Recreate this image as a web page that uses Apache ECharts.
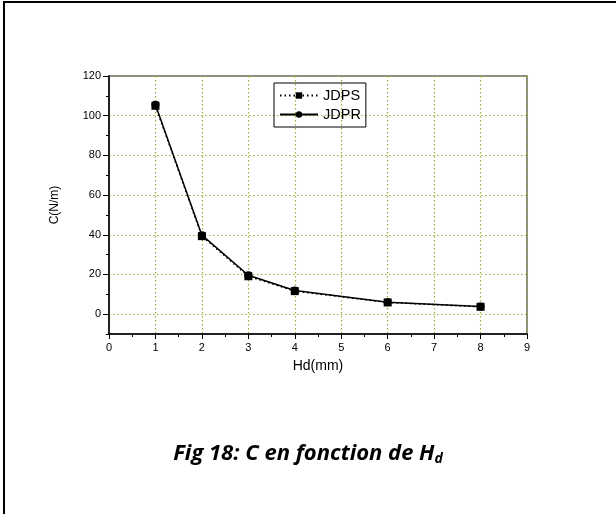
<!DOCTYPE html>
<html>
<head>
<meta charset="utf-8">
<script src="https://cdn.jsdelivr.net/npm/echarts@6/dist/echarts.min.js"></script>
<style>html,body{margin:0;padding:0;background:#fff}#c{width:616px;height:514px}</style>
</head>
<body>
<div id="c"></div>
<script>
const hd = [1, 2, 3, 4, 6, 8];
const jdps = [105, 39.3, 19.1, 11.6, 5.9, 3.7];
const jdpr = [105.5, 39.8, 19.6, 11.9, 6.0, 3.8];
const yTickLabels = [0, 20, 40, 60, 80, 100, 120];
const xTickLabels = [0, 1, 2, 3, 4, 5, 6, 7, 8, 9];

const gridColor = '#a6a63a';
const chart = echarts.init(document.getElementById('c'));
chart.setOption({
  animation: false,
  backgroundColor: '#fff',
  textStyle: { fontFamily: 'Liberation Sans, Arial, sans-serif' },
  title: {
    text: '{a|Fig 18: C en fonction de H}{b|d}',
    left: 'center',
    top: 436,
    textStyle: {
      rich: {
        a: { fontFamily: 'Open Sans', fontWeight: 'bold', fontStyle: 'italic', fontSize: 22, color: '#000' },
        b: { fontFamily: 'Open Sans', fontWeight: 'bold', fontStyle: 'italic', fontSize: 14, color: '#000', padding: [11, 0, 0, 0] }
      }
    }
  },
  graphic: [
    { type: 'line', shape: { x1: 4, y1: 1, x2: 4, y2: 514 }, style: { stroke: '#000', lineWidth: 2 } },
    { type: 'line', shape: { x1: 3, y1: 2, x2: 616, y2: 2 }, style: { stroke: '#000', lineWidth: 2 } }
  ],
  grid: {
    left: 109, right: 89, top: 76, bottom: 180,
    show: true, borderColor: '#666', borderWidth: 1.5, backgroundColor: 'transparent'
  },
  legend: {
    orient: 'vertical',
    left: 274, top: 83,
    borderColor: '#000', borderWidth: 1,
    padding: [5, 5, 5, 5],
    itemWidth: 38, itemHeight: 8, itemGap: 4,
    textStyle: { fontSize: 14.5, color: '#000', fontFamily: 'Liberation Sans, Arial' },
    data: ['JDPS', 'JDPR']
  },
  xAxis: {
    type: 'value', min: 0, max: 9, interval: 1,
    name: 'Hd(mm)', nameLocation: 'middle', nameGap: 25,
    nameTextStyle: { fontSize: 14, color: '#000' },
    axisLine: { onZero: false, lineStyle: { color: '#000', width: 1.5 } },
    axisTick: { show: true, length: 5, lineStyle: { color: '#000' } },
    minorTick: { show: true, splitNumber: 2, length: 3, lineStyle: { color: '#000' } },
    axisLabel: { fontSize: 11, color: '#000', margin: 8, customValues: xTickLabels },
    splitLine: { show: true, lineStyle: { color: gridColor, type: [1.5, 2.5], width: 1.2 } }
  },
  yAxis: [
    {
      type: 'value', min: -10, max: 120, interval: 10,
      name: 'C(N/m)', nameLocation: 'middle', nameGap: 48, nameRotate: 90,
      nameTextStyle: { fontSize: 12, color: '#000' },
      axisLine: { onZero: false, lineStyle: { color: '#000', width: 1.5 } },
      axisTick: { show: true, length: 6, customValues: yTickLabels, lineStyle: { color: '#000' } },
      axisLabel: { fontSize: 11, color: '#000', margin: 8, customValues: yTickLabels },
      splitLine: { show: true, lineStyle: { color: gridColor, type: [1.5, 2.5], width: 1.2 } }
    },
    {
      type: 'value', min: -10, max: 120, interval: 10, position: 'left',
      axisLine: { show: false },
      axisTick: { show: true, length: 3, lineStyle: { color: '#000' } },
      axisLabel: { show: false },
      splitLine: { show: false }
    }
  ],
  series: [
    {
      name: 'JDPR', type: 'line', yAxisIndex: 0,
      data: hd.map((x, i) => [x, jdpr[i]]),
      symbol: 'circle', symbolSize: 8,
      itemStyle: { color: '#000' },
      lineStyle: { color: '#000', width: 1.5, type: 'solid' },
      z: 3
    },
    {
      name: 'JDPS', type: 'line', yAxisIndex: 0,
      data: hd.map((x, i) => [x, jdps[i]]),
      symbol: 'rect', symbolSize: 8,
      itemStyle: { color: '#000' },
      lineStyle: { color: '#000', width: 1.5, type: [1.5, 3] },
      z: 4
    }
  ]
});
</script>
</body>
</html>
